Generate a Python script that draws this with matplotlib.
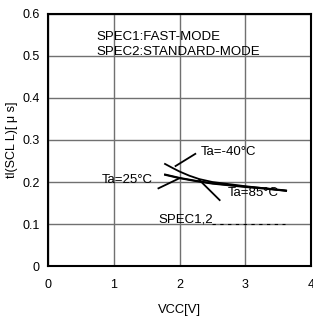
import matplotlib
matplotlib.use("Agg")
import matplotlib.pyplot as plt

plt.rcParams['font.family'] = ['Liberation Sans', 'DejaVu Sans']

vcc_m40 = [1.78, 1.9, 2.0, 2.15, 2.3, 2.5, 2.75, 3.0, 3.3, 3.62]
tl_m40 = [0.243, 0.233, 0.225, 0.215, 0.207, 0.200, 0.195, 0.190, 0.185, 0.179]
vcc_25 = [1.78, 2.0, 2.25, 2.5, 2.75, 3.0, 3.3, 3.62]
tl_25 = [0.218, 0.210, 0.203, 0.197, 0.193, 0.189, 0.185, 0.180]
vcc_85 = [1.78, 2.0, 2.25, 2.5, 2.75, 3.0, 3.3, 3.62]
tl_85 = [0.217, 0.209, 0.202, 0.196, 0.192, 0.188, 0.184, 0.179]
spec_x = [2.5, 3.6]
spec_y = [0.1, 0.1]
xticks = [0, 1, 2, 3, 4]
yticks = [0, 0.1, 0.2, 0.3, 0.4, 0.5, 0.6]
yticklabels = ['0', '0.1', '0.2', '0.3', '0.4', '0.5', '0.6']

fig = plt.figure(figsize=(3.13, 3.16), dpi=100)
ax = fig.add_axes([0.153, 0.158, 0.841, 0.798])
ax.set_xlim(0, 4)
ax.set_ylim(0, 0.6)
ax.set_xticks(xticks)
ax.set_yticks(yticks)
ax.set_yticklabels(yticklabels)
ax.tick_params(axis='both', length=0, labelsize=9)
ax.tick_params(axis='x', pad=9)
ax.tick_params(axis='y', pad=6)
ax.grid(True, color='#707070', lw=1)
ax.set_axisbelow(True)
for s in ax.spines.values():
    s.set_linewidth(1.5)
    s.set_color('black')

ax.plot(vcc_m40, tl_m40, color='black', lw=1.3)
ax.plot(vcc_25, tl_25, color='black', lw=1.3)
ax.plot(vcc_85, tl_85, color='black', lw=1.3)
ax.plot(spec_x, spec_y, color='black', lw=0.8, ls=(0, (3, 4)))

fs = 9.5
ax.plot([1.94, 2.24], [0.238, 0.267], color='black', lw=1.3)
ax.text(2.33, 0.272, 'Ta=-40\u00b0C', fontsize=fs, va='center', ha='left')
ax.plot([1.68, 2.0], [0.185, 0.209], color='black', lw=1.3)
ax.text(1.6, 0.205, 'Ta=25\u00b0C', fontsize=fs, va='center', ha='right')
ax.plot([2.3, 2.61], [0.205, 0.157], color='black', lw=1.3)
ax.text(2.73, 0.174, 'Ta=85\u00b0C', fontsize=fs, va='center', ha='left')
ax.text(1.68, 0.11, 'SPEC1,2', fontsize=fs, va='center', ha='left')
ax.text(0.74, 0.545, 'SPEC1:FAST-MODE', fontsize=fs, va='center', ha='left')
ax.text(0.74, 0.51, 'SPEC2:STANDARD-MODE', fontsize=fs, va='center', ha='left')

ax.set_xlabel('VCC[V]', fontsize=9.3, labelpad=10)
ax.set_ylabel('tl(SCL L)[ \u03bc s]', fontsize=9, labelpad=3)

fig.savefig('out.png', dpi=100)
